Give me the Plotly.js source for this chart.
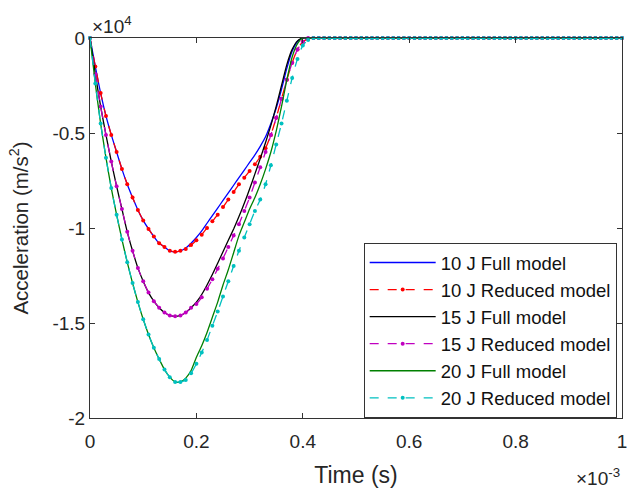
<!DOCTYPE html>
<html><head><meta charset="utf-8">
<script src="https://cdn.plot.ly/plotly-3.0.1.min.js"></script>
<style>html,body{margin:0;padding:0;background:#fff}#chart{width:627px;height:492px}</style>
</head><body><div id="chart"></div>
<script>
// Time in units of 1e-3 s, acceleration in units of 1e4 m/s^2
const time = [0,0.01,0.02,0.03,0.04,0.05,0.06,0.07,0.08,0.09,0.10,0.11,0.12,0.13,0.14,0.15,0.16,0.17,0.18,0.19,0.20,0.21,0.22,0.23,0.24,0.25,0.26,0.27,0.28,0.29,0.30,0.31,0.32,0.33,0.34,0.35,0.36,0.37,0.38,0.39,0.40,0.41,0.42,0.43,0.44,0.45,0.46,0.47,0.48,0.49,0.50,0.51,0.52,0.53,0.54,0.55,0.56,0.57,0.58,0.59,0.60,0.61,0.62,0.63,0.64,0.65,0.66,0.67,0.68,0.69,0.70,0.71,0.72,0.73,0.74,0.75,0.76,0.77,0.78,0.79,0.80,0.81,0.82,0.83,0.84,0.85,0.86,0.87,0.88,0.89,0.90,0.91,0.92,0.93,0.94,0.95,0.96,0.97,0.98,0.99,1.00];

const full10 = [0,-0.15,-0.29,-0.41,-0.51,-0.60,-0.69,-0.77,-0.84,-0.905,-0.96,-1.005,-1.045,-1.08,-1.10,-1.12,-1.125,-1.12,-1.105,-1.08,-1.05,-1.015,-0.975,-0.935,-0.895,-0.855,-0.815,-0.775,-0.735,-0.695,-0.655,-0.615,-0.57,-0.52,-0.45,-0.37,-0.27,-0.16,-0.07,-0.02,0,0,0,
 0,0,0,0,0,0,0,0,0,0,0,0,0,0,0,0,0,0,0,0,0,0,0,0,0,0,0,0,0,0,0,0,0,0,0,0,0,0,0,0,0,0,0,0,0,0,0,0,0,0,0,0,0,0,0,0,0,0];
const red10 = [0,-0.15,-0.29,-0.41,-0.51,-0.60,-0.69,-0.77,-0.84,-0.905,-0.96,-1.005,-1.045,-1.08,-1.10,-1.12,-1.125,-1.12,-1.11,-1.09,-1.065,-1.035,-1.00,-0.965,-0.93,-0.89,-0.85,-0.81,-0.77,-0.735,-0.70,-0.665,-0.625,-0.58,-0.51,-0.42,-0.32,-0.22,-0.13,-0.06,-0.02,-0.005,0,
 0,0,0,0,0,0,0,0,0,0,0,0,0,0,0,0,0,0,0,0,0,0,0,0,0,0,0,0,0,0,0,0,0,0,0,0,0,0,0,0,0,0,0,0,0,0,0,0,0,0,0,0,0,0,0,0,0,0];
const full15 = [0,-0.19,-0.36,-0.51,-0.65,-0.78,-0.90,-1.02,-1.12,-1.21,-1.28,-1.34,-1.385,-1.42,-1.445,-1.46,-1.465,-1.46,-1.445,-1.42,-1.39,-1.35,-1.30,-1.245,-1.185,-1.125,-1.065,-1.005,-0.94,-0.87,-0.795,-0.715,-0.635,-0.55,-0.46,-0.36,-0.25,-0.14,-0.06,-0.015,0,0,0,
 0,0,0,0,0,0,0,0,0,0,0,0,0,0,0,0,0,0,0,0,0,0,0,0,0,0,0,0,0,0,0,0,0,0,0,0,0,0,0,0,0,0,0,0,0,0,0,0,0,0,0,0,0,0,0,0,0,0];
const red15 = [0,-0.19,-0.36,-0.51,-0.65,-0.78,-0.90,-1.02,-1.12,-1.21,-1.28,-1.34,-1.385,-1.42,-1.445,-1.46,-1.465,-1.46,-1.445,-1.42,-1.40,-1.365,-1.32,-1.27,-1.215,-1.16,-1.10,-1.04,-0.98,-0.91,-0.84,-0.76,-0.68,-0.60,-0.51,-0.42,-0.32,-0.22,-0.13,-0.06,-0.02,0,0,
 0,0,0,0,0,0,0,0,0,0,0,0,0,0,0,0,0,0,0,0,0,0,0,0,0,0,0,0,0,0,0,0,0,0,0,0,0,0,0,0,0,0,0,0,0,0,0,0,0,0,0,0,0,0,0,0,0,0];
const full20 = [0,-0.24,-0.45,-0.63,-0.79,-0.93,-1.06,-1.18,-1.29,-1.39,-1.48,-1.56,-1.63,-1.69,-1.745,-1.785,-1.81,-1.81,-1.79,-1.75,-1.68,-1.62,-1.55,-1.47,-1.39,-1.30,-1.22,-1.13,-1.04,-0.97,-0.90,-0.84,-0.77,-0.69,-0.60,-0.49,-0.36,-0.22,-0.10,-0.03,0,0,0,
 0,0,0,0,0,0,0,0,0,0,0,0,0,0,0,0,0,0,0,0,0,0,0,0,0,0,0,0,0,0,0,0,0,0,0,0,0,0,0,0,0,0,0,0,0,0,0,0,0,0,0,0,0,0,0,0,0,0];
const red20 = [0,-0.24,-0.45,-0.63,-0.79,-0.93,-1.06,-1.18,-1.29,-1.39,-1.48,-1.56,-1.63,-1.69,-1.745,-1.785,-1.81,-1.81,-1.80,-1.765,-1.715,-1.655,-1.59,-1.515,-1.44,-1.36,-1.28,-1.20,-1.12,-1.05,-0.98,-0.91,-0.85,-0.77,-0.67,-0.56,-0.45,-0.33,-0.21,-0.11,-0.04,-0.01,0,
 0,0,0,0,0,0,0,0,0,0,0,0,0,0,0,0,0,0,0,0,0,0,0,0,0,0,0,0,0,0,0,0,0,0,0,0,0,0,0,0,0,0,0,0,0,0,0,0,0,0,0,0,0,0,0,0,0,0];

const seriesNames = ["10 J Full model","10 J Reduced model","15 J Full model","15 J Reduced model","20 J Full model","20 J Reduced model"];
const xTickVals = [0,0.2,0.4,0.6,0.8,1];
const xTickText = ["0","0.2","0.4","0.6","0.8","1"];
const yTickVals = [0,-0.5,-1,-1.5,-2];
const yTickText = ["0","-0.5","-1","-1.5","-2"];

function fullTrace(y, name, color){
  return {x: time, y: y, name: name, type:'scatter', mode:'lines', cliponaxis:false,
          line:{color:color, width:1.3, shape:'spline', smoothing:0.6}};
}
function redTrace(y, name, color){
  return {x: time, y: y, name: name, type:'scatter', mode:'lines+markers', cliponaxis:false,
          line:{color:color, width:1.3, dash:'dash', shape:'spline', smoothing:0.6},
          marker:{color:color, size:4, symbol:'circle'}};
}
const data = [
  fullTrace(full10, seriesNames[0], '#0000ff'),
  redTrace(red10, seriesNames[1], '#ff0000'),
  fullTrace(full15, seriesNames[2], '#000000'),
  redTrace(red15, seriesNames[3], '#c000c0'),
  fullTrace(full20, seriesNames[4], '#008000'),
  redTrace(red20, seriesNames[5], '#00c0c0')
];
const fontFam = 'Liberation Sans, Arial, sans-serif';
const layout = {
  width:627, height:492,
  margin:{l:90, r:5, t:38, b:74},
  paper_bgcolor:'#fff', plot_bgcolor:'#fff',
  font:{family:fontFam, color:'#262626', size:19},
  showlegend:true,
  legend:{x:0.99, xanchor:'right', y:0, yanchor:'bottom', bgcolor:'#fff',
          bordercolor:'#333', borderwidth:1, font:{size:18.5, color:'#111'}, itemwidth:66, tracegroupgap:0},
  xaxis:{range:[0,1], tickvals:xTickVals, ticktext:xTickText, ticks:'inside', ticklen:5, tickcolor:'#333',
         ticklabeloverflow:'allow', ticklabelstandoff:6,
         showline:true, linecolor:'#333', linewidth:1, mirror:'ticks', showgrid:false, zeroline:false,
         title:{text:'Time (s)', font:{size:23}, standoff:16}},
  yaxis:{range:[-2,0], tickvals:yTickVals, ticktext:yTickText, ticks:'inside', ticklen:5, tickcolor:'#333',
         showline:true, linecolor:'#333', linewidth:1, mirror:'ticks', showgrid:false, zeroline:false,
         title:{text:'Acceleration (m/s<sup>2</sup>)', font:{size:20.5}, standoff:18}},
  annotations:[
    {xref:'paper', yref:'paper', x:0, y:1.034, xanchor:'left', yanchor:'middle', showarrow:false,
     text:'×10<sup>4</sup>', font:{size:19, color:'#262626'}},
    {xref:'paper', yref:'paper', x:1, y:-0.155, xanchor:'right', yanchor:'middle', showarrow:false,
     text:'×10<sup>-3</sup>', font:{size:19, color:'#262626'}}
  ]
};
Plotly.newPlot('chart', data, layout, {displayModeBar:false, staticPlot:true});
</script></body></html>
